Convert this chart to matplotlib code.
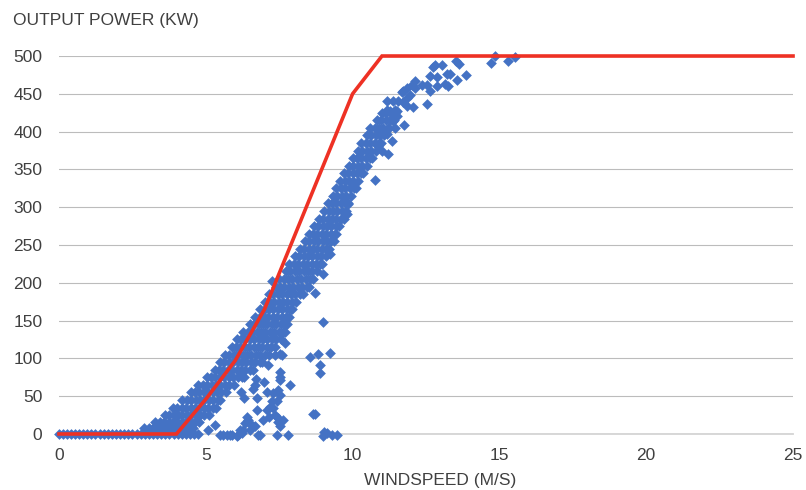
import matplotlib
matplotlib.use("Agg")
import matplotlib.pyplot as plt

# curva de potencia do fabricante (m/s -> kW)
curve_speed = [0, 1, 2, 3, 4, 5, 6, 7, 8, 9, 10, 11, 12, 13, 14, 15, 16, 17, 18, 19, 20, 21, 22, 23, 24, 25]
curve_power = [0, 0, 0, 0, 0, 46, 97, 165, 260, 355, 450, 500, 500, 500, 500, 500, 500, 500, 500, 500, 500, 500, 500, 500, 500, 500]

# faixa densa de medicoes: nivel de potencia (kW) e velocidades lidas em cada nivel
band_power = [0, 8, 16, 25, 35, 45, 55, 65, 75, 85, 95, 105, 115, 125, 135, 145, 155, 165, 175, 185,
              195, 205, 215, 225, 235, 245, 255, 265, 275, 285, 295, 305, 315, 325, 335, 345, 355,
              365, 375, 385, 395, 405, 415, 425]
band_speed = [
    [0.0, 0.13, 0.27, 0.4, 0.55, 0.68, 0.82, 0.96, 1.1, 1.24, 1.38, 1.52, 1.66, 1.8, 1.94, 2.08, 2.22,
     2.36, 2.5, 2.64, 2.78, 2.92, 3.06, 3.2, 3.34, 3.48, 3.62, 3.76, 3.9, 4.04, 4.18, 4.32, 4.46, 4.6],
    [2.9, 3.05, 3.2, 3.35, 3.5, 3.65, 3.8, 3.95, 4.1, 4.25, 4.4, 4.55],
    [3.28, 3.43, 3.58, 3.73, 3.88, 4.03, 4.18, 4.33, 4.48, 4.63, 4.78],
    [3.6, 3.75, 3.9, 4.05, 4.2, 4.35, 4.5, 4.65, 4.8, 4.95, 5.1],
    [3.88, 4.03, 4.18, 4.33, 4.48, 4.63, 4.78, 4.93, 5.08, 5.23, 5.35],
    [4.2, 4.35, 4.5, 4.65, 4.8, 4.95, 5.1, 5.25, 5.4, 5.5],
    [4.48, 4.63, 4.78, 4.93, 5.08, 5.23, 5.38, 5.53, 5.68],
    [4.75, 4.9, 5.05, 5.2, 5.35, 5.5, 5.65, 5.8, 5.95],
    [5.03, 5.18, 5.33, 5.48, 5.63, 5.78, 5.93, 6.08, 6.23, 6.3],
    [5.3, 5.45, 5.6, 5.75, 5.9, 6.05, 6.2, 6.35, 6.5, 6.6],
    [5.48, 5.63, 5.78, 5.93, 6.08, 6.23, 6.38, 6.53, 6.68, 6.83, 6.9],
    [5.65, 5.8, 5.95, 6.1, 6.25, 6.4, 6.55, 6.7, 6.85, 7.0, 7.15],
    [5.88, 6.03, 6.18, 6.33, 6.48, 6.63, 6.78, 6.93, 7.08, 7.23, 7.35],
    [6.05, 6.2, 6.35, 6.5, 6.65, 6.8, 6.95, 7.1, 7.25, 7.4, 7.55],
    [6.28, 6.43, 6.58, 6.73, 6.88, 7.03, 7.18, 7.33, 7.48, 7.63, 7.7],
    [6.5, 6.65, 6.8, 6.95, 7.1, 7.25, 7.4, 7.55, 7.7, 7.75],
    [6.68, 6.83, 6.98, 7.13, 7.28, 7.43, 7.58, 7.73, 7.85],
    [6.85, 7.0, 7.15, 7.3, 7.45, 7.6, 7.75, 7.9, 7.95],
    [7.03, 7.18, 7.33, 7.48, 7.63, 7.78, 7.93, 8.08],
    [7.15, 7.3, 7.45, 7.6, 7.75, 7.9, 8.05, 8.2, 8.3],
    [7.38, 7.53, 7.68, 7.83, 7.98, 8.13, 8.28, 8.43, 8.5],
    [7.5, 7.65, 7.8, 7.95, 8.1, 8.25, 8.4, 8.55, 8.65],
    [7.73, 7.88, 8.03, 8.18, 8.33, 8.48, 8.63, 8.78],
    [7.85, 8.0, 8.15, 8.3, 8.45, 8.6, 8.75, 8.9, 8.95],
    [8.03, 8.18, 8.33, 8.48, 8.63, 8.78, 8.93, 9.08],
    [8.2, 8.35, 8.5, 8.65, 8.8, 8.95, 9.1, 9.2],
    [8.38, 8.53, 8.68, 8.83, 8.98, 9.13, 9.28, 9.35],
    [8.5, 8.65, 8.8, 8.95, 9.1, 9.25, 9.4, 9.45],
    [8.68, 8.83, 8.98, 9.13, 9.28, 9.43, 9.55],
    [8.85, 9.0, 9.15, 9.3, 9.45, 9.6, 9.7],
    [9.03, 9.18, 9.33, 9.48, 9.63, 9.78],
    [9.15, 9.3, 9.45, 9.6, 9.75, 9.85],
    [9.33, 9.48, 9.63, 9.78, 9.93],
    [9.45, 9.6, 9.75, 9.9, 10.05, 10.1],
    [9.58, 9.73, 9.88, 10.03, 10.18],
    [9.7, 9.85, 10.0, 10.15, 10.3, 10.35],
    [9.88, 10.03, 10.18, 10.33, 10.48],
    [10.0, 10.15, 10.3, 10.45, 10.6, 10.65],
    [10.18, 10.33, 10.48, 10.63, 10.78],
    [10.3, 10.45, 10.6, 10.75, 10.9, 10.95],
    [10.48, 10.63, 10.78, 10.93, 11.08],
    [10.6, 10.75, 10.9, 11.05, 11.2, 11.25],
    [10.83, 10.98, 11.13, 11.28, 11.4],
    [11.0, 11.15, 11.3, 11.45],
]

# pontos isolados (fora da faixa principal)
outlier_speed = [4.75, 5.08, 5.31, 5.48, 5.6, 5.72, 5.82, 5.88, 6.05, 6.1, 6.16, 6.22, 6.28, 6.33, 6.45,
                 6.51, 6.62, 6.68, 6.78, 6.85, 6.96, 7.16, 7.41, 7.81, 8.66, 8.98, 9.03, 9.12, 9.29, 9.48,
                 6.2, 6.3, 6.39, 6.45, 6.62, 6.68, 6.71, 6.73, 6.73, 6.99, 7.07, 7.07, 7.11, 7.19, 7.24,
                 7.28, 7.3, 7.36, 7.36, 7.41, 7.46, 7.47, 7.47, 7.53, 7.53, 7.53, 7.53, 7.53, 7.53, 7.58,
                 7.64, 7.7, 7.87, 8.55, 8.83, 9.23, 8.89, 8.89, 8.72, 9.0, 8.72, 9.0, 9.23, 7.24, 9.8,
                 9.85, 10.76, 11.22, 10.88, 10.99, 11.16, 11.33, 11.75, 11.52, 11.39, 11.44, 11.5, 11.27,
                 11.16, 11.39, 11.56, 11.73, 11.84, 12.07, 12.52, 11.16, 11.44, 11.67, 11.73, 11.84,
                 11.96, 11.84, 12.13, 12.01, 12.13, 12.35, 12.52, 12.64, 12.86, 13.15, 13.26, 12.64,
                 12.86, 13.2, 13.32, 13.54, 13.86, 12.75, 12.81, 13.03, 13.52, 13.63, 14.73, 14.85,
                 15.3, 15.53]
outlier_power = [0, 5, 12, -1, -1, -1, -1, -1, -2, -1, 5, 1, 5, 14, 19,
                 5, 10, 10, -1, -1, 18, 22, -1, -1, 27, -3, 3, 1, -1, -1,
                 56, 47, 22, 16, 59, 65, 73, 47, 32, 69, 56, 32, 91, 36, 43,
                 34, 54, 25, 104, 43, 16, 58, 21, 82, 76, 72, 51, 10, 106, 104,
                 18, 120, 65, 102, 106, 107, 91, 81, 26, 148, 186, 211, 238, 202, 291,
                 304, 336, 370, 381, 375, 397, 388, 409, 420, 414, 405, 427, 427,
                 441, 440, 441, 439, 434, 432, 437, 429, 429, 452, 454, 458,
                 449, 445, 467, 462, 458, 461, 462, 454, 460, 463, 460, 474,
                 472, 476, 476, 468, 475, 485, 488, 488, 494, 490, 491, 500,
                 494, 499]

BLUE = "#4472C4"
RED = "#EE3124"
TEXT = "#404040"


def main():
    plt.rcParams["font.family"] = ["Liberation Sans", "DejaVu Sans"]

    speed = []
    power = []
    for level, row in zip(band_power, band_speed):
        speed.extend(row)
        power.extend([level] * len(row))
    speed.extend(outlier_speed)
    power.extend(outlier_power)

    fig = plt.figure(figsize=(8.06, 4.9), dpi=100)
    ax = fig.add_axes([0.0732, 0.1143, 0.9107, 0.7714])

    ax.scatter(speed, power, marker="D", s=30, color=BLUE, linewidths=0,
               zorder=3, clip_on=False)
    ax.plot(curve_speed, curve_power, color=RED, lw=2.6, zorder=4,
            solid_joinstyle="miter", clip_on=False)

    ax.set_xlim(0, 25)
    ax.set_ylim(0, 500)
    ax.set_xticks([0, 5, 10, 15, 20, 25])
    ax.set_yticks(range(0, 501, 50))

    ax.grid(axis="y", color="#BCBCBC", lw=0.8, zorder=0)
    ax.set_axisbelow(True)
    for side in ["top", "right", "left"]:
        ax.spines[side].set_visible(False)
    ax.spines["bottom"].set_color("#D4D4D4")
    ax.spines["bottom"].set_linewidth(1.3)
    ax.spines["bottom"].set_zorder(1)

    ax.tick_params(axis="both", length=0, labelsize=12.5, labelcolor=TEXT)
    ax.tick_params(axis="y", pad=12)
    ax.tick_params(axis="x", pad=10)

    fig.text(13 / 806, 1 - 20 / 490, "OUTPUT POWER (KW)", fontsize=12.5,
             color=TEXT, ha="left", va="center")
    fig.text(440 / 806, 1 - 480 / 490, "WINDSPEED (M/S)", fontsize=12.5,
             color=TEXT, ha="center", va="center")

    fig.savefig("out.png", dpi=100)


if __name__ == "__main__":
    main()
